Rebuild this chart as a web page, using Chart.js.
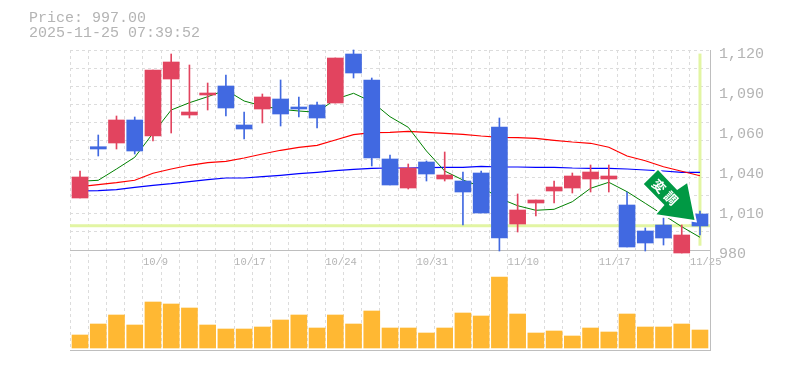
<!DOCTYPE html>
<html>
<head>
<meta charset="utf-8">
<style>
  html, body { margin: 0; padding: 0; background: #fff; }
  #wrap { position: relative; width: 785px; height: 370px; }
  #info { position: absolute; left: 29px; top: 11px; font: 15px/15px "Liberation Mono", monospace; color: #b4b4b4; white-space: pre; }
</style>
<script src="https://cdn.jsdelivr.net/npm/chart.js@4"></script>
</head>
<body>
<div id="wrap">
  <div id="info">Price: 997.00
2025-11-25 07:39:52</div>
  <canvas id="chart" width="785" height="370"></canvas>
</div>
<script>
// dates, one per candle
const dates = ['10/3','10/6','10/7','10/8','10/9','10/10','10/14','10/15','10/16','10/17',
  '10/20','10/21','10/22','10/23','10/24','10/27','10/28','10/29','10/30','10/31',
  '11/4','11/5','11/6','11/7','11/10','11/11','11/12','11/13','11/14','11/17',
  '11/18','11/19','11/20','11/21','11/25'];

const opens = [1016.4,1052.3,1054.9,1071,1059.8,1099.7,1074.5,1088.5,1094.8,1067.5,
  1078.7,1085.7,1080.1,1081.5,1082.9,1117.2,1099,1043.7,1023.4,1041.6,
  1029.7,1028.3,1033.9,1066.1,998.2,1012.9,1021.3,1023.4,1029.7,1029.7,
  1011.5,993.3,997.5,977.9,1005.2];
const closes = [1031.1,1050.7,1071,1049.3,1106,1111.6,1076.6,1089.9,1079.4,1064.7,
  1087.1,1075.2,1078.7,1072.4,1114.4,1103.9,1044.4,1025.5,1037.4,1033.2,
  1032.5,1020.6,1005.9,988.4,1008,1015,1024.1,1031.8,1034.6,1031.8,
  982.1,984.9,988.4,990.5,996.8];
const highs = [1035.3,1060.5,1073.8,1073.1,1106,1117.2,1109.5,1096.9,1102.5,1076.6,
  1089.2,1099,1087.1,1083.6,1114.4,1120,1100.4,1046.5,1040.2,1042.3,
  1048.6,1034.6,1035.3,1072.4,1019.2,1015,1028.3,1033.9,1039.5,1039.5,
  1020.6,995.4,1002.4,997.5,1007.3];
const lows = [1016.4,1045.8,1050.7,1047.2,1056.3,1061.9,1072.4,1078,1073.8,1057.7,
  1068.9,1066.8,1073.1,1065.4,1082.9,1100.4,1038.8,1025.5,1022.7,1028.3,
  1028.3,997.5,1005.9,979.3,992.6,1003.8,1012.9,1019.9,1020.6,1020.6,
  982.1,979.3,983.5,977.9,990.5];

const ma5 = [1028.1,1028.8,1036.7,1044.9,1061.7,1078,1083.1,1087.3,1092,1084.3,
  1080.8,1078.5,1077.3,1076.4,1085.5,1089.7,1083.8,1073.3,1065.9,1049.3,
  1035.3,1029,1024.3,1016.2,1011,1007.8,1008.5,1013.8,1023.2,1027.4,
  1020.8,1012.7,1004.5,996.3,988.9];
const ma25 = [1024.3,1025.7,1027.1,1028.8,1033.7,1036.7,1039.3,1041.1,1042.1,1044.4,
  1047.2,1049.8,1051.9,1053.3,1057,1060.7,1062.1,1062.4,1063.1,1062.4,
  1061.7,1061,1059.8,1058.9,1058.6,1058.2,1056.8,1055.6,1054.7,1051.9,
  1045.8,1042.5,1038.3,1035.1,1032];
const ma75 = [1021.3,1021.5,1022.2,1023.9,1025.3,1026.4,1027.8,1029.2,1030.4,1030.4,
  1031.3,1032.3,1033.4,1034.4,1035.5,1036.5,1037.2,1037.4,1037.4,1037.6,
  1037.9,1037.9,1038.6,1038.1,1038.1,1037.9,1037.9,1037.4,1037.2,1037.2,
  1036.7,1036,1035.3,1034.4,1034.4];

const volumes = [13,24,33,23,46,44,40,23,19,19,21,28,33,20,33,24,37,20,20,15,
  20,35,32,71,34,15,17,12,20,16,34,21,21,24,18];

const currentPrice = 997;
const priceMin = 980, priceMax = 1120;
const priceTicks = [1120,1092,1064,1036,1008,980];
const priceTickLabels = ['1,120','1,090','1,060','1,040','1,010','980'];

const gridGray = '#dcdcdc';
const axisGray = '#bebebe';
const labelGray = '#b4b4b4';
const red = '#e2445f';
const blue = '#4169e1';
const dash = [3,3];

const xMin = -0.55, xMax = 34.55;
const points = arr => arr.map((v,i) => ({x:i, y:v}));
const bodyColors = opens.map((o,i) => closes[i] >= o ? red : blue);

// arrow stamp, offsets are from the tip
const arrowStamp = {
  id: 'arrowStamp',
  afterDatasetsDraw(chart){
    const ctx = chart.ctx;
    const tipX = chart.scales.x.getPixelForValue(33.7);
    const tipY = chart.scales.y.getPixelForValue(1001);
    const shape = [[-36.5,-50],[-50.7,-36],[-30,-15],[-38,-5.7],[0,0],[-7.4,-36.7],[-17.4,-30]];
    ctx.save();
    ctx.translate(tipX, tipY);
    ctx.beginPath();
    shape.forEach((p,i) => i ? ctx.lineTo(p[0],p[1]) : ctx.moveTo(p[0],p[1]));
    ctx.closePath();
    ctx.lineJoin = 'miter';
    ctx.lineWidth = 4;
    ctx.strokeStyle = '#fff';
    ctx.stroke();
    ctx.fillStyle = '#009944';
    ctx.fill();
    ctx.translate(-29.5,-28);
    ctx.rotate(Math.PI/4);
    ctx.fillStyle = '#fff';
    ctx.font = 'bold 13px "Noto Sans CJK JP"';
    ctx.textAlign = 'center';
    ctx.textBaseline = 'middle';
    ctx.fillText('\u5909', -8.5, 0);
    ctx.fillText('\u8abf', 8.5, 0);
    ctx.restore();
  }
};

new Chart(document.getElementById('chart'), {
  type: 'bar',
  plugins: [arrowStamp],
  data: {
    datasets: [
      // candles
      {data: opens.map((o,i) => ({x:i, y:[o,closes[i]]})), backgroundColor: bodyColors, barThickness: 16, grouped: false, order: 1, yAxisID: 'y', clip: false},
      {data: lows.map((l,i) => ({x:i, y:[l,highs[i]]})), backgroundColor: bodyColors, barThickness: 1, grouped: false, order: 2, yAxisID: 'y', clip: false},
      // moving averages
      {type: 'line', data: points(ma75), borderColor: '#0000ff', borderWidth: 1.2, pointRadius: 0, order: 5, yAxisID: 'y'},
      {type: 'line', data: points(ma25), borderColor: '#ff0000', borderWidth: 1.2, pointRadius: 0, order: 4, yAxisID: 'y'},
      {type: 'line', data: points(ma5), borderColor: '#008000', borderWidth: 1, pointRadius: 0, order: 3, yAxisID: 'y'},
      // current price cross
      {type: 'line', data: [{x:xMin,y:currentPrice},{x:xMax,y:currentPrice}], borderColor: '#e2f5a3', borderWidth: 3, pointRadius: 0, order: 6, yAxisID: 'y'},
      {type: 'line', data: [{x:34,y:983},{x:34,y:1117.5}], borderColor: '#e2f5a3', borderWidth: 3, pointRadius: 0, order: 6, yAxisID: 'y'},
      // volume
      {data: points(volumes), backgroundColor: '#ffb833', barThickness: 16, grouped: false, order: 1, yAxisID: 'yVol'}
    ]
  },
  options: {
    responsive: false,
    animation: false,
    layout: {padding: {left: 70, top: 50, right: 0, bottom: 20}},
    plugins: {legend: {display: false}, tooltip: {enabled: false}},
    scales: {
      x: {
        type: 'linear',
        min: xMin,
        max: xMax,
        offset: false,
        position: {y: priceMin},
        afterBuildTicks(scale){
          scale.ticks = dates.map((d,i) => ({value: i + xMin}));
        },
        grid: {color: gridGray, drawTicks: false, offset: false},
        border: {color: axisGray, dash: dash},
        ticks: {
          autoSkip: false,
          maxRotation: 0,
          align: 'start',
          padding: 6,
          color: labelGray,
          font: {family: '"Liberation Mono"', size: 10.5},
          callback: (v,i) => i % 5 == 4 ? dates[i] : ''
        }
      },
      y: {
        position: 'right',
        stack: 'panels',
        stackWeight: 2,
        min: priceMin,
        max: priceMax,
        afterFit(scale){ scale.width = 75; },
        afterBuildTicks(scale){
          // 11 dashed rows, labels sit on their own 6 ticks
          const rows = [];
          for(let j = 1; j <= 10; j++){ rows.push(priceMin + j * (priceMax - priceMin) / 11); }
          scale.ticks = rows.concat(priceTicks).sort((a,b) => a - b).map(v => ({value: v}));
        },
        grid: {
          drawTicks: false,
          color: c => {
            const v = c.tick.value;
            return priceTicks.includes(v) && v != priceMax ? 'rgba(0,0,0,0)' : gridGray;
          }
        },
        border: {color: axisGray, dash: dash},
        ticks: {
          autoSkip: false,
          crossAlign: 'near',
          padding: 9,
          labelOffset: 4,
          color: labelGray,
          font: {family: '"Liberation Mono"', size: 15},
          callback: v => {
            const i = priceTicks.indexOf(v);
            return i >= 0 ? priceTickLabels[i] : '';
          }
        }
      },
      yVol: {
        position: 'right',
        stack: 'panels',
        stackWeight: 1,
        min: -2,
        max: 98,
        afterBuildTicks(scale){ scale.ticks = [{value: -2}]; },
        grid: {color: axisGray, drawTicks: false},
        border: {color: axisGray},
        ticks: {display: false}
      }
    }
  }
});
</script>
</body>
</html>
